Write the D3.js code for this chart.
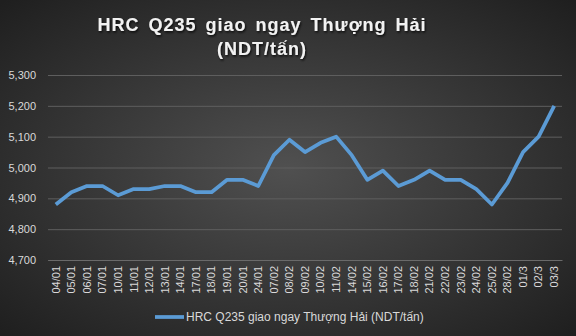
<!DOCTYPE html>
<html>
<head>
<meta charset="utf-8">
<script src="https://cdn.jsdelivr.net/npm/d3@7"></script>
<style>
  body { margin: 0; background: #2b2b2b; }
  svg { display: block; }
</style>
</head>
<body>
<div id="chart"></div>
<script>
// Data
var dates = ["04/01", "05/01", "06/01", "07/01", "10/01", "11/01", "12/01", "13/01", "14/01",
    "17/01", "18/01", "19/01", "20/01", "24/01", "07/02", "08/02", "09/02", "10/02", "11/02",
    "14/02", "15/02", "16/02", "17/02", "18/02", "21/02", "22/02", "23/02", "24/02", "25/02",
    "28/02", "01/3", "02/3", "03/3"];
var prices = [4880, 4920, 4940, 4940, 4910, 4930, 4930, 4940, 4940,
    4920, 4920, 4960, 4960, 4940, 5040, 5090, 5050, 5080, 5100,
    5040, 4960, 4990, 4940, 4960, 4990, 4960, 4960, 4930, 4880,
    4950, 5050, 5100, 5200];
var yTicks = [4700, 4800, 4900, 5000, 5100, 5200, 5300];
var seriesName = "HRC Q235 giao ngay Thượng Hải (NDT/tấn)";

var svgWidth = 576;
var svgHeight = 336;

var margin = { top: 75, right: 14, bottom: 76, left: 48 };
var width = svgWidth - margin.left - margin.right;
var height = svgHeight - margin.top - margin.bottom;

var svg = d3.select("#chart")
    .append("svg")
    .attr("width", svgWidth)
    .attr("height", svgHeight);

// background gradient
var defs = svg.append("defs");
var grad = defs.append("radialGradient")
    .attr("id", "bg")
    .attr("cx", "50%").attr("cy", "50%").attr("r", "70%");
grad.append("stop").attr("offset", "0%").attr("stop-color", "#505050");
grad.append("stop").attr("offset", "100%").attr("stop-color", "#1f1f1f");

var shadow = defs.append("filter").attr("id", "shadow");
shadow.append("feDropShadow")
    .attr("dx", 1).attr("dy", 1.5).attr("stdDeviation", 1)
    .attr("flood-color", "#000").attr("flood-opacity", 0.8);

svg.append("rect")
    .attr("width", svgWidth)
    .attr("height", svgHeight)
    .attr("fill", "url(#bg)");

// Title (sits a bit left of centre, like the original)
var titleX = 262;
var title = svg.append("text")
    .attr("x", titleX)
    .attr("text-anchor", "middle")
    .attr("font-family", "Liberation Sans, Arial, sans-serif")
    .attr("font-weight", "bold")
    .attr("font-size", 18)
    .attr("letter-spacing", 1)
    .attr("word-spacing", 3)
    .attr("fill", "#f2f2f2")
    .attr("filter", "url(#shadow)");
title.append("tspan").attr("x", titleX).attr("y", 31).text("HRC Q235 giao ngay Thượng Hải");
title.append("tspan").attr("x", titleX).attr("y", 55).text("(NDT/tấn)");

var chartGroup = svg.append("g").attr("transform", `translate(${margin.left}, ${margin.top})`);

// Scales
var xScale = d3.scaleBand()
    .domain(dates)
    .range([0, width]);

var yScale = d3.scaleLinear()
    .domain([4700, 5300])
    .range([height, 0]);

// gridlines + y axis
var leftAxis = d3.axisLeft(yScale)
    .tickValues(yTicks)
    .tickSize(-width)
    .tickPadding(12)
    .tickFormat(d3.format(","));

var yAxis = chartGroup.append("g").call(leftAxis);
yAxis.select(".domain").remove();
yAxis.selectAll("line").attr("stroke", "#5e5e5e").attr("stroke-width", 1);
yAxis.selectAll("text")
    .attr("fill", "#d9d9d9")
    .attr("font-family", "Liberation Sans, Arial, sans-serif")
    .attr("font-size", 11);

// x axis
var bottomAxis = d3.axisBottom(xScale).tickSize(0).tickPadding(0);
var xAxis = chartGroup.append("g")
    .attr("transform", `translate(0, ${height})`)
    .call(bottomAxis);
xAxis.select(".domain").attr("stroke", "#6a6a6a");
xAxis.selectAll("text")
    .attr("fill", "#d9d9d9")
    .attr("font-family", "Liberation Sans, Arial, sans-serif")
    .attr("font-size", 11)
    .attr("text-anchor", "end")
    .attr("transform", "rotate(-90)")
    .attr("x", -6)
    .attr("y", 0)
    .attr("dy", "0.35em");

// line
var line = d3.line()
    .x((d, i) => xScale(dates[i]) + xScale.bandwidth() / 2)
    .y(d => yScale(d));

chartGroup.append("path")
    .datum(prices)
    .attr("fill", "none")
    .attr("stroke", "#5b9bd5")
    .attr("stroke-width", 3.75)
    .attr("stroke-linejoin", "round")
    .attr("d", line);

// legend
var legend = svg.append("g").attr("transform", "translate(155, 317)");
legend.append("line")
    .attr("x1", 0).attr("x2", 29)
    .attr("y1", 0).attr("y2", 0)
    .attr("stroke", "#5b9bd5")
    .attr("stroke-width", 3.75);
legend.append("text")
    .attr("x", 31)
    .attr("y", 0)
    .attr("dy", "0.35em")
    .attr("fill", "#d9d9d9")
    .attr("font-family", "Liberation Sans, Arial, sans-serif")
    .attr("font-size", 12)
    .text(seriesName);
</script>
</body>
</html>
